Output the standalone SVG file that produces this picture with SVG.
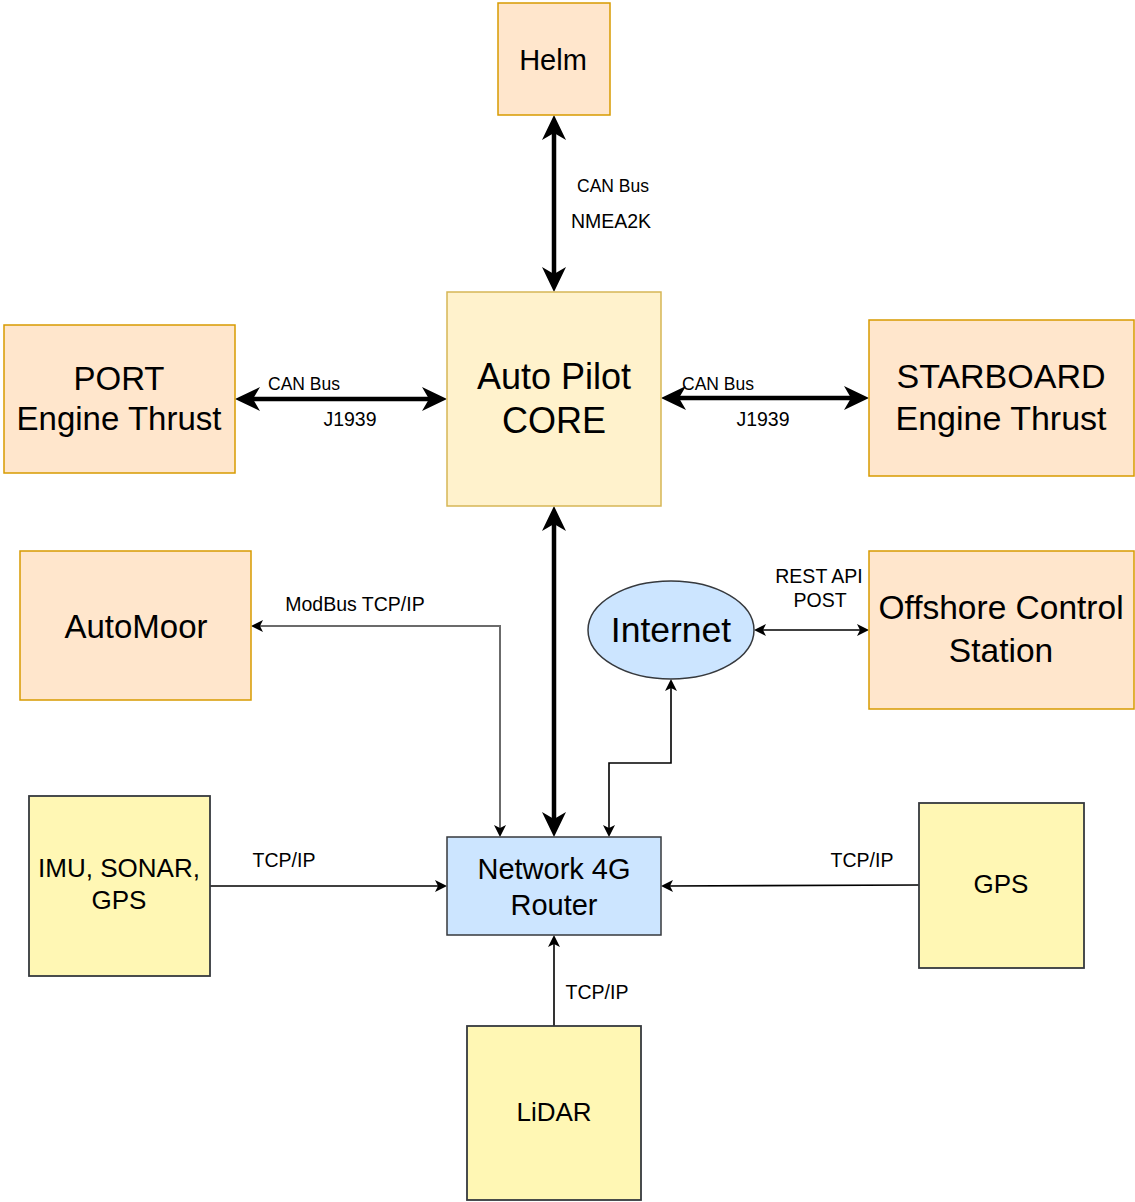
<svg xmlns="http://www.w3.org/2000/svg" width="1135" height="1202" viewBox="0 0 1135 1202">
<defs>
<style>
text{font-family:"Liberation Sans",Arial,Helvetica,sans-serif;fill:#000;text-anchor:middle}
.orange{fill:#ffe6cc;stroke:#d79b00;stroke-width:1.5}
.core{fill:#fff2cc;stroke:#d6b656;stroke-width:1.5}
.sensor{fill:#fff7b4;stroke:#36393d;stroke-width:1.8}
.blue{fill:#cce5ff;stroke:#36393d;stroke-width:1.5}
.thick{fill:none;stroke:#000;stroke-width:4.5;marker-start:url(#bigA);marker-end:url(#bigA)}
.thin{fill:none;stroke:#000;stroke-width:1.6}
.gray{fill:none;stroke:#6b6b6b;stroke-width:2}
.lbl{font-size:19.5px}
.can{font-size:17.5px}
</style>
<marker id="bigA" markerUnits="userSpaceOnUse" orient="auto-start-reverse" refX="0" refY="0" markerWidth="40" markerHeight="30" overflow="visible">
<path d="M10,0 L-15,-12 L-8,0 L-15,12 Z" fill="#000"/>
</marker>
<marker id="smA" markerUnits="userSpaceOnUse" orient="auto-start-reverse" refX="0" refY="0" markerWidth="20" markerHeight="20" overflow="visible">
<path d="M5,0 L-7,-6 L-4,0 L-7,6 Z" fill="#000"/>
</marker>
</defs>
<rect width="1135" height="1202" fill="#fff"/>

<g id="connectors">
<path class="thick" d="M554,125 L554,282"/>
<path class="thick" d="M245,399 L437,399"/>
<path class="thick" d="M671,398 L859,398"/>
<path class="thick" d="M554,516 L554,827"/>
<path class="gray" d="M500,832 L500,626 L256,626" marker-start="url(#smA)" marker-end="url(#smA)"/>
<path class="thin" d="M609,832 L609,763 L671,763 L671,684" marker-start="url(#smA)" marker-end="url(#smA)"/>
<path class="thin" d="M759,630 L864,630" marker-start="url(#smA)" marker-end="url(#smA)"/>
<path class="thin" d="M210,886 L442,886" marker-end="url(#smA)"/>
<path class="thin" d="M919,885 L666,886" marker-end="url(#smA)"/>
<path class="thin" d="M554,1026 L554,940" marker-end="url(#smA)"/>
<text class="can" x="613" y="192">CAN Bus</text>
<text class="lbl" x="611" y="228">NMEA2K</text>
<text class="can" x="304" y="390">CAN Bus</text>
<text class="lbl" x="350" y="426">J1939</text>
<text class="can" x="718" y="390">CAN Bus</text>
<text class="lbl" x="763" y="426">J1939</text>
<text class="lbl" x="355" y="611">ModBus TCP/IP</text>
<text class="lbl" x="819" y="583">REST API</text>
<text class="lbl" x="820" y="607">POST</text>
<text class="lbl" x="284" y="867">TCP/IP</text>
<text class="lbl" x="862" y="867">TCP/IP</text>
<text class="lbl" x="597" y="999">TCP/IP</text>
</g>

<g id="helm">
<rect class="orange" x="498" y="3" width="112" height="112"/>
<text x="553" y="70" font-size="29">Helm</text>
</g>
<g id="core">
<rect class="core" x="447" y="292" width="214" height="214"/>
<text x="554" y="389" font-size="36">Auto Pilot</text>
<text x="554" y="433" font-size="36">CORE</text>
</g>
<g id="port">
<rect class="orange" x="4" y="325" width="231" height="148"/>
<text x="119" y="390" font-size="33">PORT</text>
<text x="119" y="430" font-size="33">Engine Thrust</text>
</g>
<g id="starboard">
<rect class="orange" x="869" y="320" width="265" height="156"/>
<text x="1001" y="388" font-size="34">STARBOARD</text>
<text x="1001" y="430" font-size="34">Engine Thrust</text>
</g>
<g id="automoor">
<rect class="orange" x="20" y="551" width="231" height="149"/>
<text x="136" y="638" font-size="33">AutoMoor</text>
</g>
<g id="offshore">
<rect class="orange" x="869" y="551" width="265" height="158"/>
<text x="1001" y="619" font-size="33.5">Offshore Control</text>
<text x="1001" y="662" font-size="33.5">Station</text>
</g>
<g id="internet">
<ellipse class="blue" cx="671" cy="630" rx="83" ry="49"/>
<text x="671" y="642" font-size="35.5">Internet</text>
</g>
<g id="router">
<rect class="blue" x="447" y="837" width="214" height="98"/>
<text x="554" y="879" font-size="29">Network 4G</text>
<text x="554" y="915" font-size="29">Router</text>
</g>
<g id="imu">
<rect class="sensor" x="29" y="796" width="181" height="180"/>
<text x="119" y="877" font-size="26">IMU, SONAR,</text>
<text x="119" y="909" font-size="26">GPS</text>
</g>
<g id="gps">
<rect class="sensor" x="919" y="803" width="165" height="165"/>
<text x="1001" y="893" font-size="26">GPS</text>
</g>
<g id="lidar">
<rect class="sensor" x="467" y="1026" width="174" height="174"/>
<text x="554" y="1121" font-size="26">LiDAR</text>
</g>
</svg>
